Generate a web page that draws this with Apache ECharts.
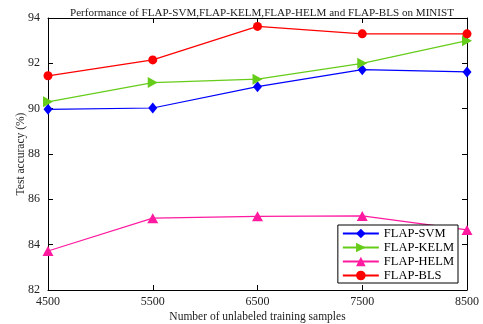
<!DOCTYPE html>
<html>
<head>
<meta charset="utf-8">
<script src="https://cdn.jsdelivr.net/npm/echarts@6/dist/echarts.min.js"></script>
<style>
  html, body { margin: 0; padding: 0; background: #fff; }
  #chart { width: 483px; height: 324px; }
</style>
</head>
<body>
<div id="chart"></div>
<script>
  const samples = [4500, 5500, 6500, 7500, 8500];
  const svm = [89.97, 90.03, 90.97, 91.72, 91.62];
  const kelm = [90.3, 91.15, 91.3, 92.0, 93.0];
  const helm = [83.72, 85.17, 85.25, 85.27, 84.65];
  const bls = [91.45, 92.15, 93.63, 93.3, 93.3];

  const font = "Liberation Serif";
  const pair = (ys) => samples.map((x, i) => [x, ys[i]]);

  const makeSeries = (name, ys, color, symbol, size) => ({
    name,
    type: "line",
    data: pair(ys),
    color,
    symbol,
    symbolSize: size,
    showAllSymbol: true,
    lineStyle: { width: 1.2, color },
    itemStyle: { color },
  });

  const chart = echarts.init(document.getElementById("chart"));
  const axisLine = { show: true, lineStyle: { color: "#000", width: 1 } };
  const tick = { inside: true, length: 5, lineStyle: { color: "#000" } };
  chart.setOption({
    animation: false,
    textStyle: { fontFamily: font },
    title: {
      text: "Performance of FLAP-SVM,FLAP-KELM,FLAP-HELM and FLAP-BLS on MINIST",
      left: 257,
      textAlign: "center",
      top: 3,
      textStyle: { fontFamily: font, fontSize: 11.1, fontWeight: "normal", color: "#222" },
    },
    grid: { left: 48, right: 16, top: 18, bottom: 34, outerBoundsMode: "none" },
    legend: {
      right: 25,
      top: 225,
      orient: "vertical",
      backgroundColor: "#fff",
      borderColor: "#000",
      borderWidth: 1,
      borderRadius: 0,
      padding: [2, 4, 1, 4],
      itemGap: 1,
      itemWidth: 36,
      itemHeight: 12,
      textStyle: { fontFamily: font, fontSize: 12.5, color: "#000" },
      data: ["FLAP-SVM", "FLAP-KELM", "FLAP-HELM", "FLAP-BLS"],
    },
    xAxis: [
      {
        type: "value",
        min: 4500,
        max: 8500,
        interval: 1000,
        name: "Number of unlabeled training samples",
        nameLocation: "middle",
        nameGap: 21,
        nameMoveOverlap: false,
        nameTextStyle: { fontFamily: font, fontSize: 11.5, color: "#222" },
        axisLine,
        axisTick: tick,
        axisLabel: { fontFamily: font, fontSize: 12, color: "#222", margin: 6, formatter: (v) => String(v) },
        splitLine: { show: false },
      },
      {
        type: "value",
        position: "top",
        min: 4500,
        max: 8500,
        interval: 1000,
        axisLine,
        axisTick: tick,
        axisLabel: { show: false },
        splitLine: { show: false },
      },
    ],
    yAxis: [
      {
        type: "value",
        min: 82,
        max: 94,
        interval: 2,
        name: "Test accuracy (%)",
        nameLocation: "middle",
        nameGap: 21,
        nameMoveOverlap: false,
        nameTextStyle: { fontFamily: font, fontSize: 11.5, color: "#222" },
        axisLine,
        axisTick: tick,
        axisLabel: { fontFamily: font, fontSize: 12, color: "#222", margin: 8 },
        splitLine: { show: false },
      },
      {
        type: "value",
        position: "right",
        min: 82,
        max: 94,
        interval: 2,
        axisLine,
        axisTick: tick,
        axisLabel: { show: false },
        splitLine: { show: false },
      },
    ],
    series: [
      makeSeries("FLAP-SVM", svm, "#0000ff", "diamond", [9, 11]),
      makeSeries("FLAP-KELM", kelm, "#66cc1a", "path://M0,0 L10,5 L0,10 Z", [10, 11]),
      makeSeries("FLAP-HELM", helm, "#ff1aa0", "triangle", [11, 10]),
      makeSeries("FLAP-BLS", bls, "#ff0000", "circle", 9),
    ],
  });
</script>
</body>
</html>
